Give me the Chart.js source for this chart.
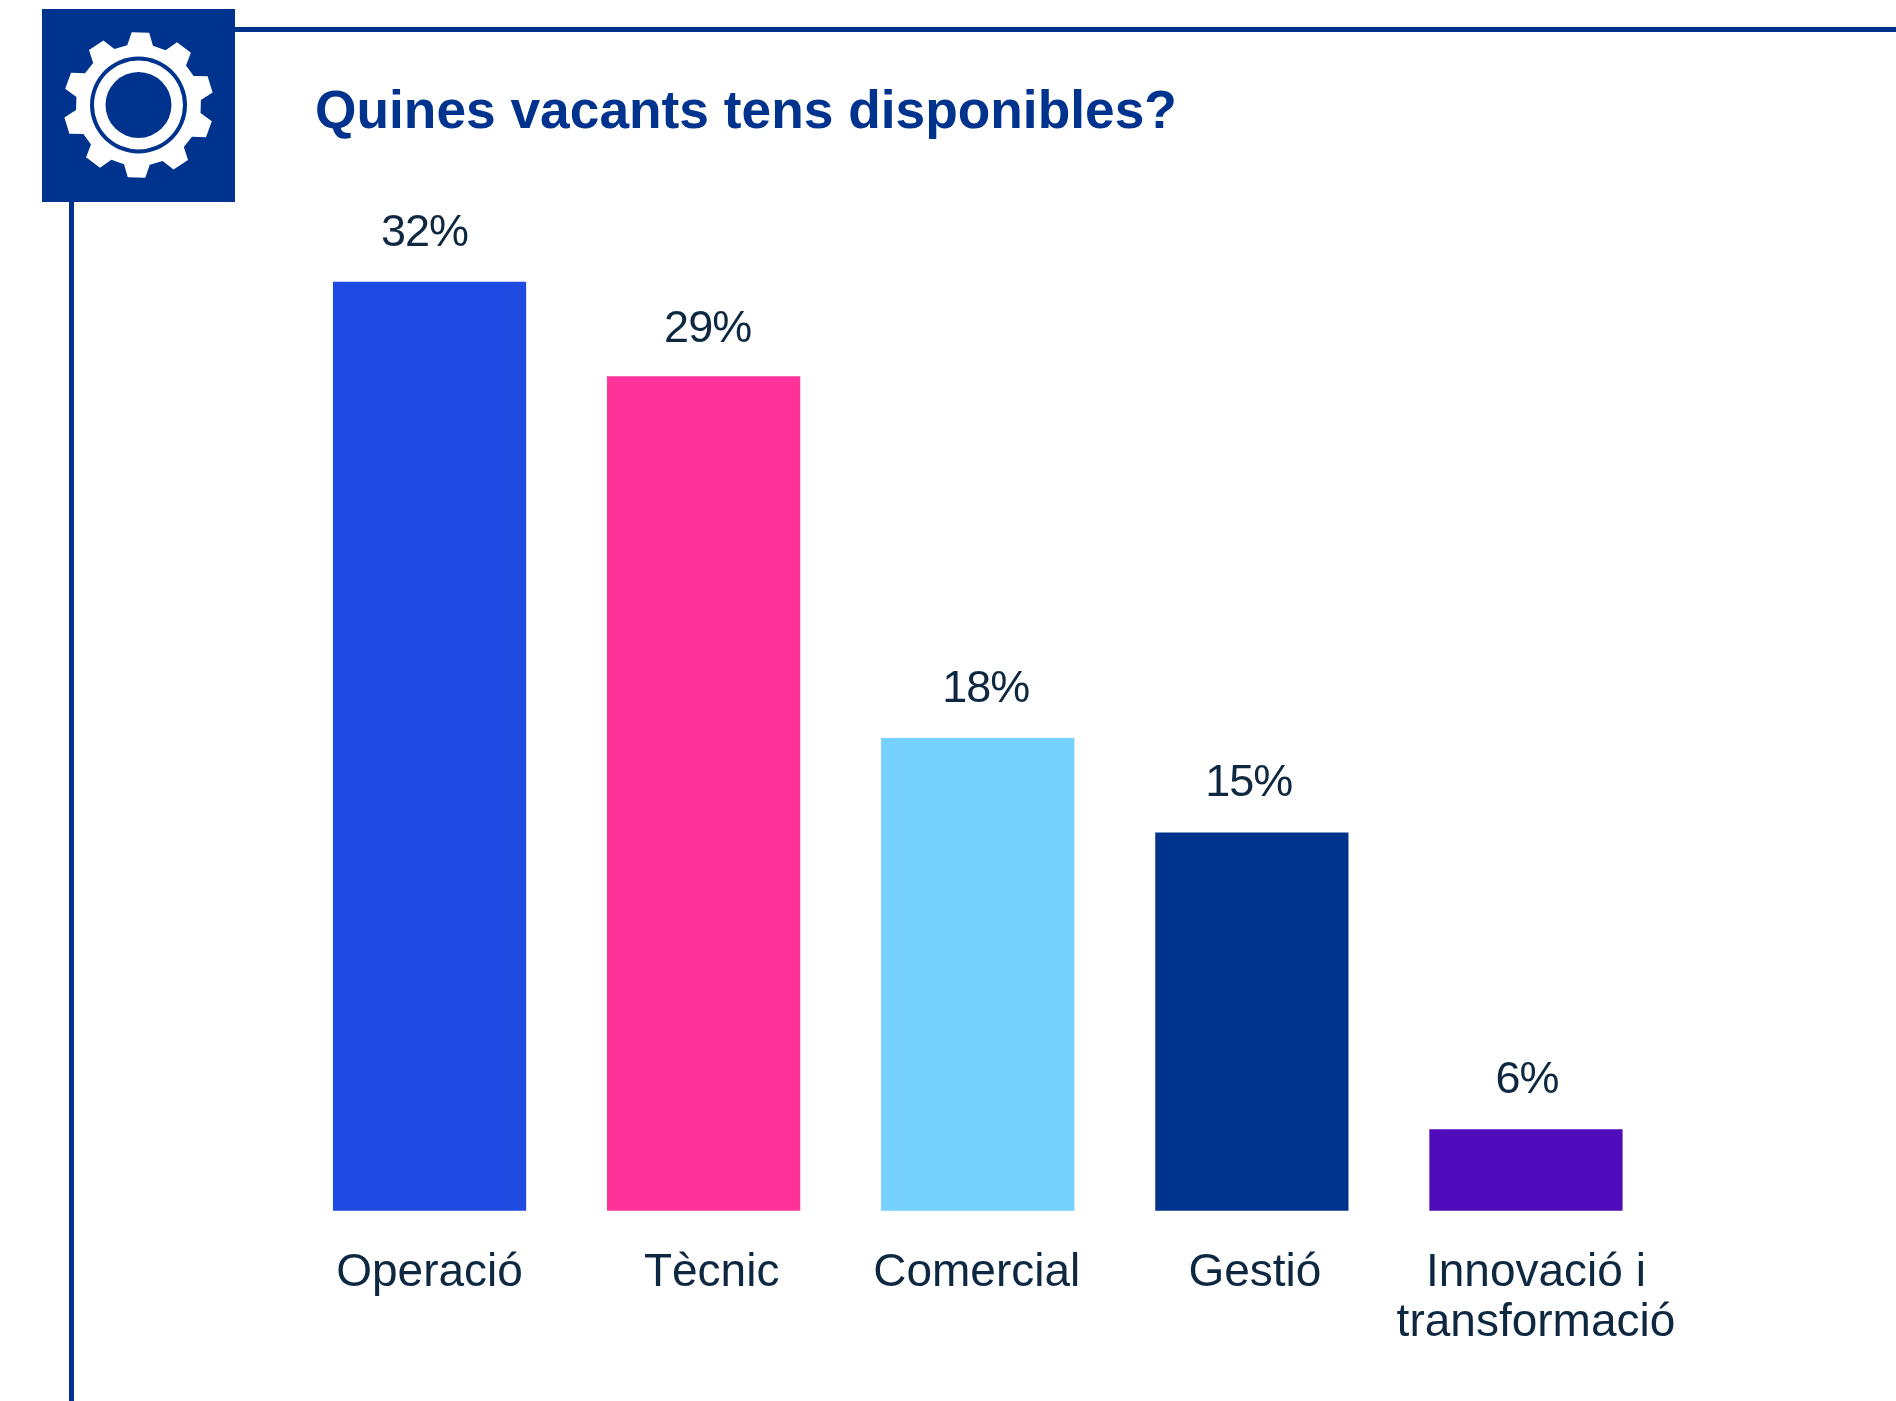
<!DOCTYPE html>
<html>
<head>
<meta charset="utf-8">
<style>html,body{margin:0;padding:0;background:#fff;overflow:hidden}canvas{display:block}</style>
<script src="https://cdn.jsdelivr.net/npm/chart.js@4"></script>
</head>
<body>
<canvas id="c" width="1896" height="1401"></canvas>
<script>
const categories = ['Operació', 'Tècnic', 'Comercial', 'Gestió', ['Innovació i', 'transformació']];
const values = [32, 29.1, 18, 15.1, 6];
const barColors = ['#1F4BE3', '#FF3399', '#75D1FF', '#00338D', '#500BBB'];
const titleText = 'Quines vacants tens disponibles?';
const valueLabelShift = [-5, 4, 8, -3, 1];
const valueLabelLift = [36, 34.5, 36, 37, 36];
const tickLabelShift = [0, 8, -1, 3, 10];

const NAVY = '#00338D', INK = '#0E2841';
const FONT = '"Liberation Sans", Arial, sans-serif';

const decor = {
  id: 'decor',
  afterLayout(chart) {
    const t = chart.titleBlock;
    t.left = 315; t.right = 1500; t.top = 81; t.bottom = 143;
  },
  beforeDraw(chart) {
    const ctx = chart.ctx;
    const items = chart.scales.x.getLabelItems(chart.chartArea);
    items.forEach((it, i) => {
      if (it.__shifted) return;
      it.options.translation[0] += tickLabelShift[i];
      it.__shifted = true;
    });
    ctx.save();
    ctx.fillStyle = NAVY;
    ctx.fillRect(235, 27, 1661, 5);
    ctx.fillRect(69, 202, 5, 1199);
    ctx.fillRect(42, 9, 193, 193);
    const cx = 138.5, cy = 105, teeth = 10, rot = 1.5 * Math.PI / 180, xStretch = 1.03;
    const rootR = 59.5, tipR = 72.5, baseHalf = 12.5, tipHalf = 8.5;
    ctx.fillStyle = '#fff';
    ctx.beginPath();
    for (let i = 0; i < teeth; i++) {
      const a = -Math.PI / 2 + rot + i * 2 * Math.PI / teeth;
      const pt = (r, s) => [cx + xStretch * (r * Math.cos(a) - s * Math.sin(a)), cy + r * Math.sin(a) + s * Math.cos(a)];
      const pts = [pt(rootR, -baseHalf), pt(tipR, -tipHalf), pt(tipR, tipHalf), pt(rootR, baseHalf)];
      pts.forEach((p, k) => (i === 0 && k === 0) ? ctx.moveTo(p[0], p[1]) : ctx.lineTo(p[0], p[1]));
    }
    ctx.closePath();
    ctx.fill();
    const disc = (r, col) => { ctx.fillStyle = col; ctx.beginPath(); ctx.arc(cx, cy, r, 0, 2 * Math.PI); ctx.fill(); };
    disc(48.5, NAVY); disc(44.5, '#fff'); disc(33, NAVY);
    ctx.restore();
  },
  afterDatasetsDraw(chart) {
    const ctx = chart.ctx, meta = chart.getDatasetMeta(0);
    ctx.save();
    ctx.font = '45px ' + FONT;
    ctx.letterSpacing = '-1px';
    ctx.fillStyle = INK;
    ctx.textAlign = 'center';
    ctx.textBaseline = 'alphabetic';
    meta.data.forEach((bar, i) => {
      ctx.fillText(Math.round(values[i]) + '%', bar.x + valueLabelShift[i], bar.y - valueLabelLift[i]);
    });
    ctx.restore();
  }
};

new Chart(document.getElementById('c'), {
  type: 'bar',
  data: {
    labels: categories,
    datasets: [{ data: values, backgroundColor: barColors, barPercentage: 0.705, categoryPercentage: 1 }]
  },
  plugins: [decor],
  options: {
    responsive: false,
    animation: false,
    layout: { padding: { left: 292.5, right: 233, top: 0, bottom: 23 } },
    plugins: {
      legend: { display: false },
      tooltip: { enabled: false },
      title: {
        display: true, text: titleText, align: 'start', color: NAVY,
        font: { family: FONT, size: 53.3, weight: 'bold' }, padding: 0
      }
    },
    scales: {
      x: {
        grid: { display: false }, border: { display: false },
        ticks: {
          color: INK, maxRotation: 0, autoSkip: false, padding: 30,
          font: { family: FONT, size: 46, lineHeight: 1.08 }
        }
      },
      y: { display: false, min: 3.5, max: 38.68 }
    }
  }
});
</script>
</body>
</html>
